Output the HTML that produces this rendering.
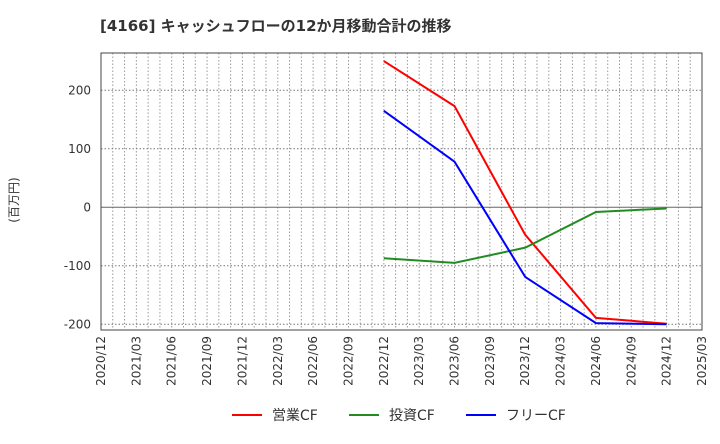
<!DOCTYPE html>
<html><head><meta charset="utf-8"><style>
body{margin:0;background:#fff;font-family:"DejaVu Sans","Noto Sans CJK JP",sans-serif;}
</style></head><body>
<svg width="720" height="440" viewBox="0 0 720 440" font-family="DejaVu Sans, Noto Sans CJK JP, sans-serif">
<text x="100" y="31" font-size="15" font-weight="bold" fill="#333">[4166]  キャッシュフローの12か月移動合計の推移</text>
<text transform="translate(18,200) rotate(-90)" font-size="12" fill="#333" text-anchor="middle">(百万円)</text>
<g id="grid"></g><g id="axes"></g><g id="series"></g>
<g font-size="14" fill="#333">
<g><line x1="232" y1="415" x2="262" y2="415" stroke="#ff0000" stroke-width="2"/><text x="272" y="420">営業CF</text></g>
<g><line x1="349" y1="415" x2="379" y2="415" stroke="#228b22" stroke-width="2"/><text x="389" y="420">投資CF</text></g>
<g><line x1="466" y1="415" x2="496" y2="415" stroke="#0000ff" stroke-width="2"/><text x="506" y="420">フリーCF</text></g>
</g>
</svg>
<script>
const categories=["2022/12","2023/06","2023/12","2024/06","2024/12"];
const operatingCF=[250,173,-47,-189,-199];
const investingCF=[-87,-95,-69,-8,-2];
const freeCF=[165,78,-119,-198,-200];
const yTicks=[-200,-100,0,100,200];
const xTickLabels=["2020/12","2021/03","2021/06","2021/09","2021/12","2022/03","2022/06","2022/09","2022/12","2023/03","2023/06","2023/09","2023/12","2024/03","2024/06","2024/09","2024/12","2025/03"];

const NS="http://www.w3.org/2000/svg";
const L=101,R=702,T=53,B=330;
function monthIdx(s){const [y,m]=s.split("/").map(Number);return (y-2020)*12+(m-12);}
function xs(s){return L+(R-L)*monthIdx(s)/51;}
function ys(v){return 207.3-v*0.585;}
function mk(tag,attrs,parent){const e=document.createElementNS(NS,tag);for(const k in attrs)e.setAttribute(k,attrs[k]);parent.appendChild(e);return e;}
const grid=document.getElementById("grid"),axes=document.getElementById("axes"),series=document.getElementById("series");
for(let m=1;m<51;m++){const x=L+(R-L)*m/51;
const g=mk("line",{x1:x,x2:x,y1:T,y2:B,stroke:"#999","stroke-dasharray":"1.5,2","stroke-width":1},grid);

}
yTicks.forEach(v=>{const y=ys(v);
const g=mk("line",{x1:L,x2:R,y1:y,y2:y,stroke:v===0?"#666":"#777","stroke-dasharray":v===0?"":"1.5,2","stroke-width":1},grid);


const t=mk("text",{x:L-10,y:y+4,"text-anchor":"end","font-size":12,fill:"#333"},axes);t.textContent=v;

});
const fr=mk("rect",{x:L,y:T,width:R-L,height:B-T,fill:"none",stroke:"#444","stroke-width":1},axes);


xTickLabels.forEach(s=>{const x=xs(s);
const t=mk("text",{transform:`translate(${x+4},336) rotate(-90)`,"text-anchor":"end","font-size":12,fill:"#333"},axes);t.textContent=s;

});
[[operatingCF,"#ff0000","operating-cf-line"],[investingCF,"#228b22","investing-cf-line"],[freeCF,"#0000ff","free-cf-line"]].forEach(([d,c,n])=>{
const p=mk("polyline",{points:d.map((v,i)=>xs(categories[i])+","+ys(v)).join(" "),fill:"none",stroke:c,"stroke-width":2},series);

});
</script>
</body></html>
